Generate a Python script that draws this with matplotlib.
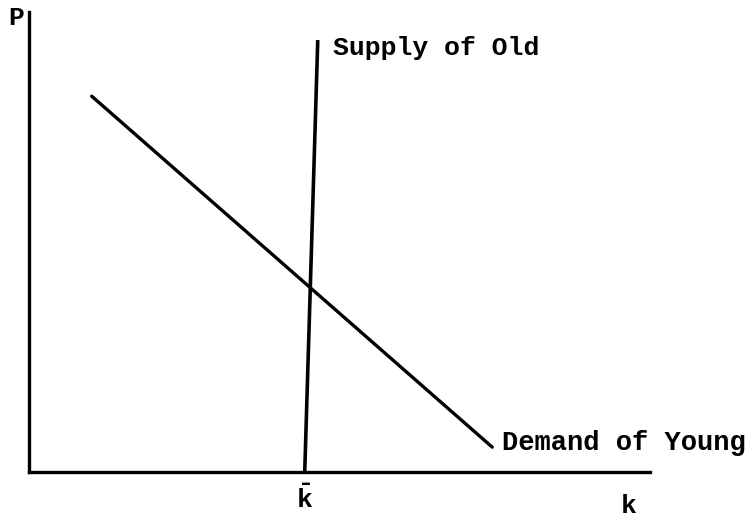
import matplotlib
matplotlib.use("Agg")
import matplotlib.pyplot as plt

plt.rcParams["mathtext.fontset"] = "custom"
plt.rcParams["mathtext.bf"] = "Liberation Mono:bold"
plt.rcParams["mathtext.rm"] = "Liberation Mono:bold"

# Data (axis units: k from 0..10, P from 0..10)
supply_k = [4.44, 4.65]
supply_p = [0.0, 9.39]
demand_k = [1.01, 7.46]
demand_p = [8.17, 0.54]
k_bar = 4.44
labels = {"supply": "Supply of Old", "demand": "Demand of Young",
          "y": "P", "x": "k"}

fig = plt.figure(figsize=(7.47, 5.26), dpi=100)
ax = fig.add_axes([29/747, 54/526, 621/747, 460/526])
ax.set_xlim(0, 10)
ax.set_ylim(0, 10)
for s in ["top", "right"]:
    ax.spines[s].set_visible(False)
for s in ["left", "bottom"]:
    ax.spines[s].set_linewidth(2.4)
    ax.spines[s].set_color("black")
ax.set_xticks([])
ax.set_yticks([])

ax.plot(supply_k, supply_p, color="black", lw=2.6, solid_capstyle="butt", clip_on=False)
ax.plot(demand_k, demand_p, color="black", lw=2.4, solid_capstyle="round", clip_on=False)

font = dict(family="Liberation Mono", fontweight="bold", color="black")
ax.text(4.89, 9.22, labels["supply"], fontsize=19, va="center", ha="left", **font)
ax.text(7.62, 0.62, labels["demand"], fontsize=19.5, va="center", ha="left", **font)
ax.text(-0.2, 9.86, labels["y"], fontsize=19, va="center", ha="center", **font)
ax.text(9.65, -0.74, labels["x"], fontsize=19, va="center", ha="center", **font)
ax.text(k_bar, -0.6, r"$\bar{\mathbf{k}}$", fontsize=19, va="center", ha="center", color="black")

fig.savefig("out.png", dpi=100)
